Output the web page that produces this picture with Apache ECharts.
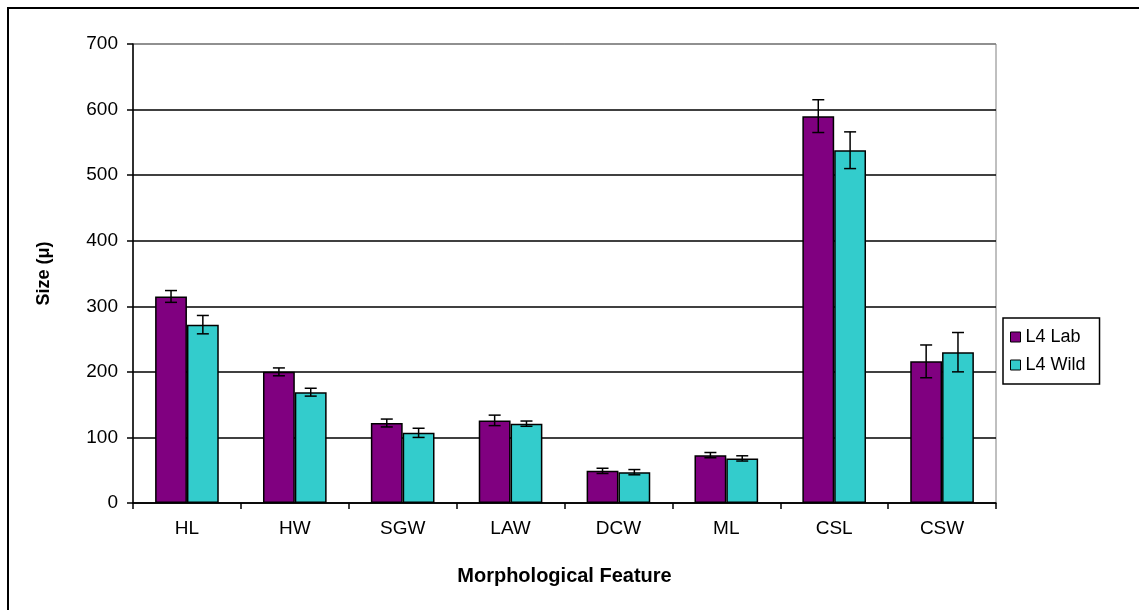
<!DOCTYPE html>
<html>
<head>
<meta charset="utf-8">
<script src="https://cdn.jsdelivr.net/npm/echarts@6/dist/echarts.min.js"></script>
<style>
  html, body { margin: 0; padding: 0; background: #fff; }
  #chart { width: 1139px; height: 610px; }
</style>
</head>
<body>
<div id="chart"></div>
<script>
// 数据
var categories = ['HL', 'HW', 'SGW', 'LAW', 'DCW', 'ML', 'CSL', 'CSW']
var labValues = [315, 200, 122, 126, 49, 73, 590, 216]
var labErrors = [9, 6, 6, 8, 4, 4, 25, 25]
var wildValues = [272, 169, 107, 121, 47, 68, 538, 230]
var wildErrors = [14, 6, 7, 4, 4, 4, 28, 30]
var seriesNames = ['L4 Lab', 'L4 Wild']
var yTicks = [0, 100, 200, 300, 400, 500, 600, 700]

var fontFamily = 'Liberation Sans, Arial, sans-serif'
var categoryGap = 0.41

var myChart = echarts.init(document.getElementById('chart'))

// 误差线
function errorItem (offsetSign) {
  return function (params, api) {
    var idx = api.value(0)
    var val = api.value(1)
    var err = api.value(2)
    var band = api.size([1, 0])[0]
    var bw = band * (1 - categoryGap) / 2
    var top = api.coord([idx, val + err])
    var bottom = api.coord([idx, val - err])
    var x = top[0] + offsetSign * bw / 2
    var cap = 6
    var style = { stroke: '#000', lineWidth: 1.5 }
    return {
      type: 'group',
      children: [
        { type: 'line', shape: { x1: x, y1: top[1], x2: x, y2: bottom[1] }, style: style },
        { type: 'line', shape: { x1: x - cap, y1: top[1], x2: x + cap, y2: top[1] }, style: style },
        { type: 'line', shape: { x1: x - cap, y1: bottom[1], x2: x + cap, y2: bottom[1] }, style: style },
      ],
    }
  }
}

var labErrData = labValues.map(function (v, i) { return [i, v, labErrors[i]] })
var wildErrData = wildValues.map(function (v, i) { return [i, v, wildErrors[i]] })

var option = {
  backgroundColor: '#fff',
  animation: false,
  grid: {
    left: 133,
    right: 143,
    top: 44,
    bottom: 107,
    show: true,
    borderColor: '#808080',
    borderWidth: 1,
  },
  legend: {
    orient: 'vertical',
    left: 1003,
    top: 318,
    data: seriesNames,
    icon: 'rect',
    itemWidth: 10,
    itemHeight: 10,
    itemGap: 10,
    padding: [10, 14, 10, 7],
    borderColor: '#000',
    borderWidth: 1.5,
    borderRadius: 0,
    textStyle: {
      color: '#000',
      fontSize: 18,
      fontFamily: fontFamily,
    },
    itemStyle: {
      borderColor: '#000',
      borderWidth: 1,
    },
  },
  xAxis: {
    type: 'category',
    data: categories,
    name: 'Morphological Feature',
    nameLocation: 'middle',
    nameGap: 63,
    nameTextStyle: {
      color: '#000',
      fontSize: 20,
      fontWeight: 'bold',
      fontFamily: fontFamily,
    },
    axisLine: { lineStyle: { color: '#000', width: 1.5 } },
    axisTick: { show: true, length: 6, inside: false, lineStyle: { color: '#000', width: 1.5 } },
    axisLabel: {
      color: '#000',
      fontSize: 19,
      fontFamily: fontFamily,
      margin: 16,
    },
    splitLine: { show: false },
  },
  yAxis: {
    type: 'value',
    min: 0,
    max: 700,
    interval: 100,
    name: 'Size (μ)',
    nameLocation: 'middle',
    nameGap: 80,
    nameTextStyle: {
      color: '#000',
      fontSize: 18,
      fontWeight: 'bold',
      fontFamily: fontFamily,
    },
    axisLine: { show: true, lineStyle: { color: '#000', width: 1.5 } },
    axisTick: { show: true, length: 6, lineStyle: { color: '#000', width: 1.5 } },
    axisLabel: {
      color: '#000',
      fontSize: 19,
      fontFamily: fontFamily,
      margin: 15,
      formatter: function (v) { return yTicks.indexOf(v) >= 0 ? String(v) : '' },
    },
    splitLine: {
      show: true,
      lineStyle: {
        color: ['#000', '#000', '#000', '#000', '#000', '#000', '#000', '#808080'],
        width: 1.5,
      },
    },
  },
  graphic: [
    {
      type: 'rect',
      silent: true,
      z: -1,
      shape: { x: 8, y: 8, width: 1200, height: 700 },
      style: { fill: 'none', stroke: '#000', lineWidth: 2 },
    },
  ],
  series: [
    {
      name: seriesNames[0],
      type: 'bar',
      data: labValues,
      barGap: '0%',
      barCategoryGap: (categoryGap * 100) + '%',
      itemStyle: { color: '#800080', borderColor: '#000', borderWidth: 1.5 },
    },
    {
      name: seriesNames[1],
      type: 'bar',
      data: wildValues,
      itemStyle: { color: '#33CCCC', borderColor: '#000', borderWidth: 1.5 },
    },
    {
      type: 'custom',
      renderItem: errorItem(-1),
      data: labErrData,
      encode: { x: 0, y: 1 },
      z: 10,
    },
    {
      type: 'custom',
      renderItem: errorItem(1),
      data: wildErrData,
      encode: { x: 0, y: 1 },
      z: 10,
    },
  ],
}

myChart.setOption(option)
window.onresize = myChart.resize
</script>
</body>
</html>
